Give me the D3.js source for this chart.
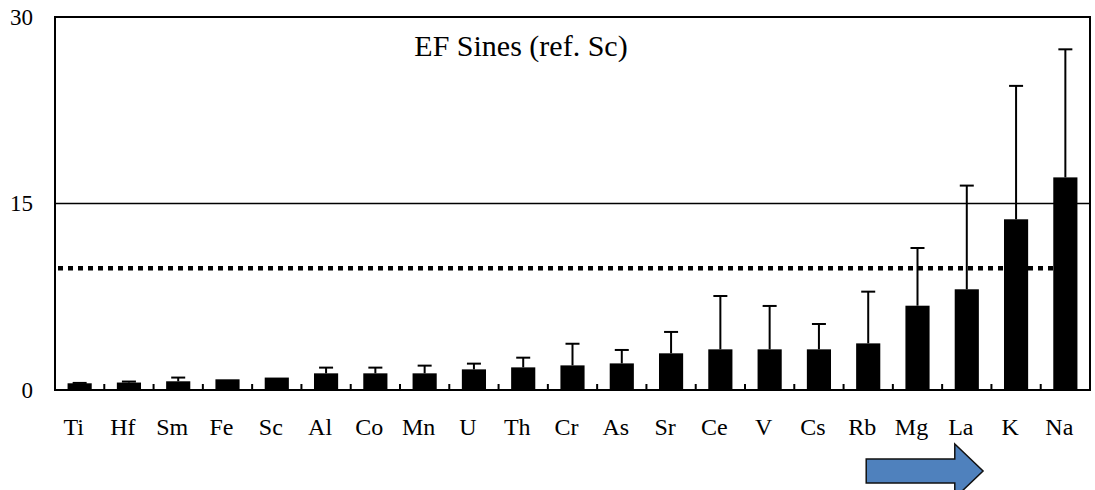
<!DOCTYPE html>
<html>
<head>
<meta charset="utf-8">
<script src="https://cdn.jsdelivr.net/npm/d3@7"></script>
<style>
  body { margin: 0; background: #fff; }
  text { font-family: "Liberation Serif", "Times New Roman", serif; fill: #000; }
</style>
</head>
<body>
<div id="vis"></div>
<script>
// enrichment factors, ref. Sc
const elements = ["Ti", "Hf", "Sm", "Fe", "Sc", "Al", "Co", "Mn", "U", "Th", "Cr",
  "As", "Sr", "Ce", "V", "Cs", "Rb", "Mg", "La", "K", "Na"];
const efMean = [0.54, 0.6, 0.7, 0.86, 1.0, 1.34, 1.34, 1.34, 1.66, 1.82, 1.98,
  2.14, 2.95, 3.27, 3.27, 3.27, 3.75, 6.78, 8.1, 13.73, 17.1];
const efErr = [0.03, 0.08, 0.3, 0.0, 0.0, 0.46, 0.46, 0.62, 0.46, 0.78, 1.74,
  1.08, 1.72, 4.29, 3.49, 2.04, 4.16, 4.64, 8.34, 10.73, 10.3];
const yTicks = [0, 15, 30];
const gridValue = 15;
const thresholdValue = 9.8;
const title = "EF Sines (ref. Sc)";

const WIDTH = 1095;
const HEIGHT = 490;
const MARGIN = { LEFT: 55, RIGHT: 5, TOP: 17, BOTTOM: 100 };

const data = elements.map((el, i) => ({ el: el, v: efMean[i], e: efErr[i] }));

const svg = d3.select("#vis").append("svg")
  .attr("width", WIDTH)
  .attr("height", HEIGHT);

const x = d3.scaleBand()
  .domain(elements)
  .range([MARGIN.LEFT, WIDTH - MARGIN.RIGHT])
  .padding(0);

const y = d3.scaleLinear()
  .domain([0, 30])
  .range([HEIGHT - MARGIN.BOTTOM, MARGIN.TOP]);

const bw = x.bandwidth();
const barW = bw * 0.49;
const cx = (d) => x(d) + bw / 2;

// gridline at 15
svg.append("line")
  .attr("x1", MARGIN.LEFT).attr("x2", WIDTH - MARGIN.RIGHT)
  .attr("y1", y(gridValue)).attr("y2", y(gridValue))
  .attr("stroke", "#000").attr("stroke-width", 1.5);

// dotted threshold line
svg.append("line")
  .attr("x1", MARGIN.LEFT + 3).attr("x2", cx("Na"))
  .attr("y1", y(thresholdValue)).attr("y2", y(thresholdValue))
  .attr("stroke", "#000").attr("stroke-width", 4.5)
  .attr("stroke-dasharray", "5,5");

// error bars (upper only)
const err = svg.append("g").attr("class", "err");
err.selectAll("line.stem")
  .data(data.filter((d) => d.e > 0))
  .enter().append("line")
  .attr("class", "stem")
  .attr("x1", (d) => cx(d.el)).attr("x2", (d) => cx(d.el))
  .attr("y1", (d) => y(d.v)).attr("y2", (d) => y(d.v + d.e))
  .attr("stroke", "#000").attr("stroke-width", 2);
err.selectAll("line.cap")
  .data(data.filter((d) => d.e > 0))
  .enter().append("line")
  .attr("class", "cap")
  .attr("x1", (d) => cx(d.el) - 7).attr("x2", (d) => cx(d.el) + 7)
  .attr("y1", (d) => y(d.v + d.e)).attr("y2", (d) => y(d.v + d.e))
  .attr("stroke", "#000").attr("stroke-width", 2);

// bars
svg.append("g")
  .selectAll("rect")
  .data(data)
  .enter().append("rect")
  .attr("x", (d) => cx(d.el) - barW / 2)
  .attr("width", barW)
  .attr("y", (d) => y(d.v))
  .attr("height", (d) => y(0) - y(d.v))
  .attr("fill", "#000");

// frame
svg.append("rect")
  .attr("x", MARGIN.LEFT).attr("y", MARGIN.TOP)
  .attr("width", WIDTH - MARGIN.LEFT - MARGIN.RIGHT)
  .attr("height", y(0) - MARGIN.TOP)
  .attr("fill", "none").attr("stroke", "#000").attr("stroke-width", 2);

// x ticks between categories (pointing up)
svg.append("g")
  .selectAll("line")
  .data(elements.slice(1))
  .enter().append("line")
  .attr("x1", (d) => x(d)).attr("x2", (d) => x(d))
  .attr("y1", y(0)).attr("y2", y(0) - 6)
  .attr("stroke", "#000").attr("stroke-width", 2);

// x labels
svg.append("g")
  .selectAll("text")
  .data(elements)
  .enter().append("text")
  .attr("x", (d) => cx(d) - 6)
  .attr("y", 435)
  .attr("text-anchor", "middle")
  .style("font-size", "24px")
  .text((d) => d);

// y labels
svg.append("g")
  .selectAll("text")
  .data(yTicks)
  .enter().append("text")
  .attr("x", 33)
  .attr("y", (d) => y(d))
  .attr("dy", "0.34em")
  .attr("text-anchor", "end")
  .style("font-size", "23px")
  .text((d) => d);

// title
svg.append("text")
  .attr("x", 521)
  .attr("y", 56)
  .attr("text-anchor", "middle")
  .style("font-size", "30px")
  .text(title);

// blue arrow under the last categories
const ax0 = cx("Rb") - 2, ax1 = cx("La") - 12, ax2 = cx("K") - 33;
const ay = 471;
const arrow = [
  [ax0, ay - 12], [ax1, ay - 12], [ax1, ay - 27], [ax2, ay],
  [ax1, ay + 27], [ax1, ay + 12], [ax0, ay + 12]
];
svg.append("path")
  .attr("d", d3.line()(arrow) + "Z")
  .attr("fill", "#4F81BD")
  .attr("stroke", "#111")
  .attr("stroke-width", 1.5);
</script>
</body>
</html>
